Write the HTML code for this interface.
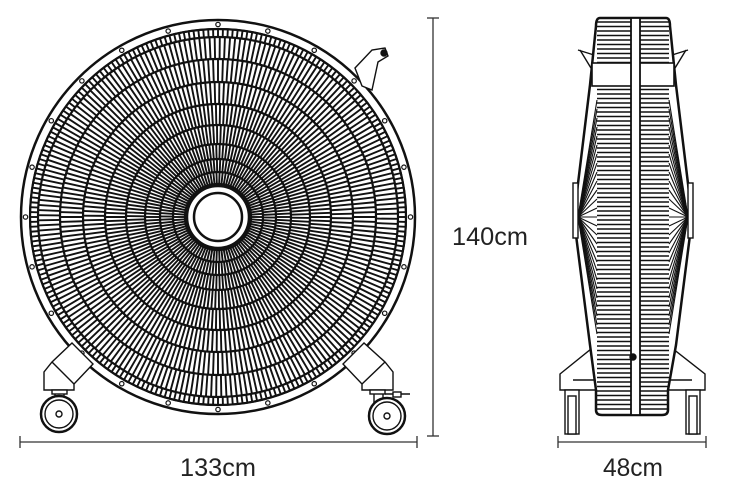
<!DOCTYPE html>
<html><head><meta charset="utf-8"><style>
html,body{margin:0;padding:0;background:#fff;width:750px;height:498px;overflow:hidden}
svg{display:block}
text{font-family:"Liberation Sans",sans-serif;fill:#222}
</style></head><body>
<svg id="s" width="750" height="498" viewBox="0 0 750 498" xmlns="http://www.w3.org/2000/svg">
<g id="front" stroke="#111" fill="none"></g>
<g stroke="#111" stroke-width="1.4" fill="#fff">
<polygon points="72,343 93,364 74,384 74,390 44,390 44,372 52,362"/>
<line x1="52" y1="362" x2="74" y2="384"/>
<rect x="52" y="390" width="15" height="4"/>
<line x1="55" y1="394" x2="55" y2="412"/><line x1="64" y1="394" x2="64" y2="412"/>
<circle cx="59" cy="414" r="18" stroke-width="2.5"/><circle cx="59" cy="414" r="14"/><circle cx="59" cy="414" r="3"/>
<polygon points="364,343 343,364 362,384 362,390 393,390 393,372 385,362"/>
<line x1="385" y1="362" x2="362" y2="384"/>
<rect x="370" y="390" width="15" height="4"/>
<line x1="374" y1="394" x2="374" y2="412"/><line x1="383" y1="394" x2="383" y2="412"/>
<line x1="385" y1="394" x2="410" y2="394"/><rect x="393" y="392" width="8" height="5"/>
<circle cx="387" cy="416" r="18" stroke-width="2.5"/><circle cx="387" cy="416" r="14"/><circle cx="387" cy="416" r="3"/>
<polygon points="355,68 372,50 385,48 388,56 378,62 372,90 362,86" />
<circle cx="384" cy="53" r="3" fill="#111"/>
</g>
<g stroke="#111" stroke-width="1.4" fill="#fff">
<polygon points="560,374 596,345 668,345 705,374 705,390 560,390"/>
<line x1="573" y1="380" x2="692" y2="380"/>
<rect x="565" y="390" width="14" height="44"/><rect x="568" y="396" width="8" height="38"/>
<rect x="686" y="390" width="14" height="44"/><rect x="689" y="396" width="8" height="38"/>
<line x1="580" y1="50" x2="594" y2="73"/><line x1="686" y1="50" x2="672" y2="73"/>
<line x1="578" y1="50" x2="594" y2="55"/><line x1="688" y1="50" x2="672" y2="55"/>
<path d="M600,18 L666,18 Q670,18 670,26 L676,85 L690,200 L690,235 L676,345 L668,390 L668,410 Q668,415 662,415 L602,415 Q596,415 596,410 L596,390 L590,345 L576,235 L576,200 L590,85 L596,26 Q596,18 600,18Z" stroke-width="2.5"/>
<rect x="573" y="183" width="5" height="55"/><rect x="688" y="183" width="5" height="55"/>
<g id="side" stroke-width="1.6"></g>
<rect x="592" y="63" width="82" height="23" fill="#fff" stroke-width="1.6"/>
<rect x="631" y="18" width="9" height="397" fill="#fff" stroke-width="1.8"/>
<circle cx="633" cy="357" r="3" fill="#111"/>
</g>
<g stroke="#333" stroke-width="1.3">
<line x1="20" y1="442" x2="417" y2="442"/><line x1="20" y1="436" x2="20" y2="448"/><line x1="417" y1="436" x2="417" y2="448"/>
<line x1="433" y1="18" x2="433" y2="436"/><line x1="427" y1="18" x2="439" y2="18"/><line x1="427" y1="436" x2="439" y2="436"/>
<line x1="558" y1="442" x2="706" y2="442"/><line x1="558" y1="436" x2="558" y2="448"/><line x1="706" y1="436" x2="706" y2="448"/>
</g>
<text x="218" y="476" font-size="25" text-anchor="middle" textLength="76" lengthAdjust="spacingAndGlyphs">133cm</text>
<text x="490" y="245" font-size="25" text-anchor="middle" textLength="76" lengthAdjust="spacingAndGlyphs">140cm</text>
<text x="633" y="476" font-size="25" text-anchor="middle" textLength="60" lengthAdjust="spacingAndGlyphs">48cm</text>
</svg>
<script>
var NS="http://www.w3.org/2000/svg",cx=218,cy=217;
var g=document.getElementById("front");
function el(t,a,p){var e=document.createElementNS(NS,t);for(var k in a)e.setAttribute(k,a[k]);(p||g).appendChild(e);return e;}
el("circle",{cx:cx,cy:cy,r:197,"stroke-width":2.5});
el("circle",{cx:cx,cy:cy,r:188,"stroke-width":2});
var rings=[33,45,58,73,92,113,135,158,180,188];
var counts=[90,110,130,150,170,180,200,220,240];
for(var i=0;i<rings.length-1;i++){
 var n=counts[i];
 for(var j=0;j<n;j++){var a=j/n*2*Math.PI+(i%2)*0.01;
  el("line",{x1:cx+rings[i]*Math.cos(a),y1:cy+rings[i]*Math.sin(a),x2:cx+rings[i+1]*Math.cos(a),y2:cy+rings[i+1]*Math.sin(a),"stroke-width":1.9});}
}
rings.forEach(function(r){el("circle",{cx:cx,cy:cy,r:r,"stroke-width":2.2});});
for(var k=0;k<24;k++){var a=k/24*2*Math.PI;el("circle",{cx:cx+192.5*Math.cos(a),cy:cy+192.5*Math.sin(a),r:2.2,fill:"#fff","stroke-width":1.2});}
el("circle",{cx:cx,cy:cy,r:31,fill:"#fff","stroke-width":2.5});
el("circle",{cx:cx,cy:cy,r:24,fill:"#fff","stroke-width":2.5});
var s=document.getElementById("side");
for(var y=22;y<412;y+=4.5){el("line",{x1:597,y1:y,x2:631,y2:y},s);el("line",{x1:640,y1:y,x2:669,y2:y},s);}
for(var y=100;y<340;y+=9){el("line",{x1:578,y1:217,x2:597,y2:y,"stroke-width":1.1},s);el("line",{x1:688,y1:217,x2:669,y2:y,"stroke-width":1.1},s);}
</script>
</body></html>
